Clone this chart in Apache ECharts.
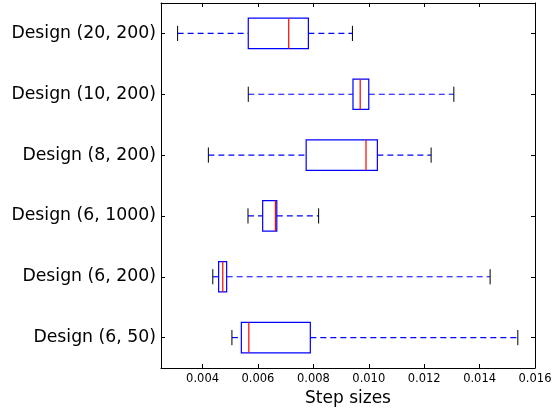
<!DOCTYPE html>
<html><head><meta charset="utf-8">
<script src="https://cdn.jsdelivr.net/npm/echarts@6/dist/echarts.min.js"></script>
<style>html,body{margin:0;padding:0;background:#fff}#c{width:554px;height:409px}</style>
</head><body><div id="c"></div>
<script>
var categories = ['Design (20, 200)', 'Design (10, 200)', 'Design (8, 200)', 'Design (6, 1000)', 'Design (6, 200)', 'Design (6, 50)'];
var whiskerLow = [0.00310, 0.00565, 0.00421, 0.00564, 0.00437, 0.00506];
var q1 = [0.00565, 0.00943, 0.00774, 0.00617, 0.00458, 0.00540];
var median = [0.00711, 0.00969, 0.00990, 0.00663, 0.00473, 0.00567];
var q3 = [0.00782, 0.01000, 0.01031, 0.00668, 0.00487, 0.00789];
var whiskerHigh = [0.00941, 0.01307, 0.01225, 0.00819, 0.01438, 0.01538];
var tickValues = [0.004, 0.006, 0.008, 0.010, 0.012, 0.014, 0.016];

var data = categories.map(function (c, i) {
  return [i, whiskerLow[i], q1[i], median[i], q3[i], whiskerHigh[i]];
});

function renderItem(params, api) {
  var idx = api.value(0);
  var pLo = api.coord([api.value(1), idx]);
  var pQ1 = api.coord([api.value(2), idx]);
  var pMed = api.coord([api.value(3), idx]);
  var pQ3 = api.coord([api.value(4), idx]);
  var pHi = api.coord([api.value(5), idx]);
  var band = api.size([0, 1])[1];
  var bh = band * 0.5;
  var ch = band * 0.25;
  var y = pMed[1];
  var blue = '#0000ff';
  return {
    type: 'group',
    children: [
      { type: 'line', shape: { x1: pLo[0], y1: y, x2: pQ1[0], y2: y }, style: { stroke: blue, lineWidth: 1.2, lineDash: [6, 4] } },
      { type: 'line', shape: { x1: pQ3[0], y1: y, x2: pHi[0], y2: y }, style: { stroke: blue, lineWidth: 1.2, lineDash: [6, 4] } },
      { type: 'line', shape: { x1: pLo[0], y1: y - ch / 2, x2: pLo[0], y2: y + ch / 2 }, style: { stroke: '#000', lineWidth: 1 } },
      { type: 'line', shape: { x1: pHi[0], y1: y - ch / 2, x2: pHi[0], y2: y + ch / 2 }, style: { stroke: '#000', lineWidth: 1 } },
      { type: 'rect', shape: { x: pQ1[0], y: y - bh / 2, width: pQ3[0] - pQ1[0], height: bh }, style: { fill: 'none', stroke: blue, lineWidth: 1.2 } },
      { type: 'line', shape: { x1: pMed[0], y1: y - bh / 2, x2: pMed[0], y2: y + bh / 2 }, style: { stroke: '#ff0000', lineWidth: 1.2 } }
    ]
  };
}

var chart = echarts.init(document.getElementById('c'));
var axisLineStyle = { show: true, lineStyle: { color: '#000', width: 1 } };
chart.setOption({
  animation: false,
  grid: { left: 161, right: 19, top: 3, bottom: 41, show: false, outerBoundsMode: 'none', containLabel: false },
  xAxis: [{
    type: 'value', min: 0.0025, max: 0.016, position: 'bottom',
    axisLine: axisLineStyle,
    axisTick: { show: true, inside: true, length: 4, customValues: tickValues, lineStyle: { color: '#000' } },
    axisLabel: { show: true, customValues: tickValues, color: '#000', fontFamily: 'DejaVu Sans', fontSize: 11.5, margin: 5,
      formatter: function (v) { return v.toFixed(3); } },
    splitLine: { show: false },
    name: 'Step sizes', nameLocation: 'middle', nameGap: 18,
    nameTextStyle: { color: '#000', fontFamily: 'DejaVu Sans', fontSize: 17 }
  }, {
    type: 'value', min: 0.0025, max: 0.016, position: 'top',
    axisLine: axisLineStyle,
    axisTick: { show: true, inside: true, length: 4, customValues: tickValues, lineStyle: { color: '#000' } },
    axisLabel: { show: false },
    splitLine: { show: false }
  }],
  yAxis: [{
    type: 'category', data: categories, inverse: true, position: 'left',
    axisLine: axisLineStyle,
    axisTick: { show: true, inside: true, length: 4, alignWithLabel: true, interval: 0, lineStyle: { color: '#000' } },
    axisLabel: { color: '#000', fontFamily: 'DejaVu Sans', fontSize: 17.3, margin: 5, interval: 0 },
    splitLine: { show: false }
  }, {
    type: 'category', data: categories, inverse: true, position: 'right',
    axisLine: axisLineStyle,
    axisTick: { show: true, inside: true, length: 4, alignWithLabel: true, interval: 0, lineStyle: { color: '#000' } },
    axisLabel: { show: false },
    splitLine: { show: false }
  }],
  series: [{
    type: 'custom', renderItem: renderItem, xAxisIndex: 0, yAxisIndex: 0,
    encode: { x: [1, 2, 3, 4, 5], y: 0 },
    data: data
  }]
});
</script></body></html>
